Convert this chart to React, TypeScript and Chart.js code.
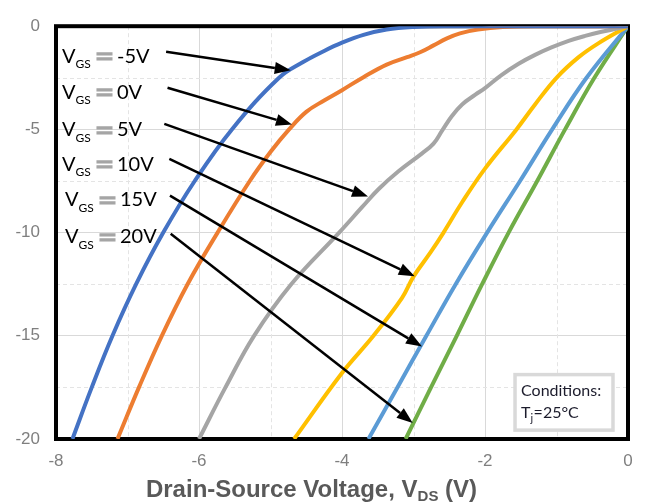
import React, { useEffect, useRef } from 'react';
import { Chart, registerables } from 'chart.js';
Chart.register(...registerables);

// ---- axes ----
const X_MIN = -8;
const X_MAX = 0;
const X_STEP = 2;
const Y_MIN = -20;
const Y_MAX = 0;
const Y_STEP = 5;
const MINOR_X = [-7, -5, -3, -1];
const MINOR_Y = [-2.5, -7.5, -12.5, -17.5];
const X_TITLE_MAIN = 'Drain-Source Voltage, V';
const X_TITLE_SUB = 'DS';
const X_TITLE_END = ' (V)';

// ---- series (VDS in V, ID in A) ----
const SERIES_NAMES = ['VGS=-5V', 'VGS=0V', 'VGS=5V', 'VGS=10V', 'VGS=15V', 'VGS=20V'];

const VDS_M5 = [-7.77, -7.5, -7.21, -6.88, -6.5, -6.06, -5.54, -4.88, -4.55, -4.25, -4.0, -3.7, -3.375, -3.0, -2.5, -1.5, 0];
const ID_M5 = [-20, -17.5, -15, -12.5, -10, -7.5, -5, -2.5, -1.75, -1.2, -0.8, -0.42, -0.16, -0.04, 0, 0, 0];

const VDS_0 = [-7.14, -6.84, -6.52, -6.16, -5.74, -5.29, -4.99, -4.74, -4.5, -4.25, -4.0, -3.7, -3.375, -3.09, -2.9, -2.72, -2.54, -2.35, -2.1, -1.75, -1.2, 0];
const ID_0 = [-20, -17.5, -15, -12.5, -10, -7.5, -6.05, -5, -4.15, -3.6, -3.1, -2.47, -1.86, -1.5, -1.25, -0.93, -0.6, -0.35, -0.16, -0.04, 0, 0];

const VDS_5 = [-6.0, -5.63, -5.23, -4.71, -4.04, -3.72, -3.49, -3.21, -2.88, -2.72, -2.6, -2.46, -2.32, -2.135, -2.0, -1.77, -1.53, -1.3, -1.07, -0.83, -0.6, -0.37, 0];
const ID_5 = [-20, -17.5, -15, -12.5, -10, -8.77, -7.9, -7.03, -6.16, -5.69, -5.06, -4.34, -3.79, -3.32, -3.0, -2.37, -1.82, -1.39, -1.03, -0.71, -0.47, -0.27, 0];

const VDS_10 = [-4.67, -4.0, -3.56, -3.16, -3.0, -2.76, -2.58, -2.32, -2.0, -1.56, -1.3, -1.0, -0.69, -0.41, 0];
const ID_10 = [-20, -16.8, -15, -13.16, -12.13, -10.95, -10, -8.53, -6.9, -5, -3.79, -2.5, -1.5, -0.82, 0];

const VDS_15 = [-3.63, -3.225, -2.82, -2.41, -1.97, -1.51, -1.06, -0.58, 0];
const ID_15 = [-20, -17.5, -15, -12.5, -10, -7.5, -5, -2.5, 0];

const VDS_20 = [-3.11, -2.755, -2.395, -2.04, -1.67, -1.27, -0.88, -0.47, 0];
const ID_20 = [-20, -17.5, -15, -12.5, -10, -7.5, -5, -2.5, 0];

const SERIES_X = [VDS_M5, VDS_0, VDS_5, VDS_10, VDS_15, VDS_20];
const SERIES_Y = [ID_M5, ID_0, ID_5, ID_10, ID_15, ID_20];
const COLORS = ['#4472C4', '#ED7D31', '#A5A5A5', '#FFC000', '#5B9BD5', '#70AD47'];

// ---- annotations (data coordinates) ----
const LABEL_VALUES = ['-5V', '0V', '5V', '10V', '15V', '20V'];
const LABEL_X = [-7.916, -7.916, -7.916, -7.916, -7.874, -7.874];
const LABEL_Y = [-1.762, -3.524, -5.333, -7.0, -8.714, -10.52];
const ARROW_X0 = [-6.46, -6.44, -6.485, -6.415, -6.406, -6.396];
const ARROW_Y0 = [-1.24, -2.98, -4.73, -6.43, -8.21, -10.06];
const ARROW_X1 = [-4.717, -4.70, -3.636, -2.983, -2.881, -3.011];
const ARROW_Y1 = [-2.14, -4.76, -8.25, -12.11, -15.52, -19.22];

const COND_BOX_X = [-1.58, -0.21];
const COND_BOX_Y = [-16.88, -19.57];
const COND_LINE1 = 'Conditions:';
const COND_T = 'T';
const COND_SUB = 'j';
const COND_REST = '=25°C';

const TICK_FONT = "'Liberation Sans', Arial, sans-serif";
const LABEL_FONT = "Lato, 'Open Sans', sans-serif";

const overlayPlugin = {
  id: 'overlay',
  beforeDatasetsDraw(chart: any) {
    const { ctx, chartArea: a, scales } = chart;
    const xs = scales.x;
    const ys = scales.y;
    ctx.save();
    ctx.strokeStyle = '#e4e4e4';
    ctx.lineWidth = 1;
    ctx.setLineDash([4, 3]);
    for (const v of MINOR_X) {
      const p = Math.round(xs.getPixelForValue(v)) + 0.5;
      ctx.beginPath();
      ctx.moveTo(p, a.top);
      ctx.lineTo(p, a.bottom);
      ctx.stroke();
    }
    for (const v of MINOR_Y) {
      const p = Math.round(ys.getPixelForValue(v)) + 0.5;
      ctx.beginPath();
      ctx.moveTo(a.left, p);
      ctx.lineTo(a.right, p);
      ctx.stroke();
    }
    ctx.setLineDash([]);
    ctx.strokeStyle = '#000';
    ctx.lineWidth = 4;
    ctx.strokeRect(a.left, a.top, a.right - a.left, a.bottom - a.top);
    ctx.restore();
  },
  afterDatasetsDraw(chart: any) {
    const { ctx, scales } = chart;
    const xs = scales.x;
    const ys = scales.y;
    ctx.save();
    // arrows
    for (let i = 0; i < ARROW_X0.length; i++) {
      const x0 = xs.getPixelForValue(ARROW_X0[i]);
      const y0 = ys.getPixelForValue(ARROW_Y0[i]);
      const x1 = xs.getPixelForValue(ARROW_X1[i]);
      const y1 = ys.getPixelForValue(ARROW_Y1[i]);
      const ang = Math.atan2(y1 - y0, x1 - x0);
      const hl = 16;
      const hw = 6;
      const bx = x1 - hl * Math.cos(ang);
      const by = y1 - hl * Math.sin(ang);
      ctx.strokeStyle = '#000';
      ctx.lineWidth = 2.5;
      ctx.beginPath();
      ctx.moveTo(x0, y0);
      ctx.lineTo(bx, by);
      ctx.stroke();
      ctx.fillStyle = '#000';
      ctx.beginPath();
      ctx.moveTo(x1, y1);
      ctx.lineTo(bx + hw * Math.sin(ang), by - hw * Math.cos(ang));
      ctx.lineTo(bx - hw * Math.sin(ang), by + hw * Math.cos(ang));
      ctx.closePath();
      ctx.fill();
    }
    // labels
    ctx.textBaseline = 'alphabetic';
    for (let i = 0; i < LABEL_VALUES.length; i++) {
      const px = xs.getPixelForValue(LABEL_X[i]);
      const py = ys.getPixelForValue(LABEL_Y[i]);
      ctx.textAlign = 'left';
      ctx.fillStyle = '#000';
      ctx.font = `20px ${LABEL_FONT}`;
      ctx.fillText('V', px, py);
      ctx.font = `12px ${LABEL_FONT}`;
      ctx.fillText('GS', px + 13.5, py + 5.5);
      ctx.fillStyle = '#a6a6a6';
      ctx.strokeStyle = '#a6a6a6';
      ctx.lineWidth = 1.1;
      ctx.font = "bold 21px 'Noto Sans CJK SC'";
      ctx.textAlign = 'center';
      ctx.fillText('＝', px + 42.5, py + 1.5);
      ctx.strokeText('＝', px + 42.5, py + 1.5);
      ctx.textAlign = 'left';
      ctx.fillStyle = '#000';
      ctx.font = `20px ${LABEL_FONT}`;
      ctx.fillText(LABEL_VALUES[i], px + 55, py);
    }
    // conditions box
    const bx0 = xs.getPixelForValue(COND_BOX_X[0]);
    const bx1 = xs.getPixelForValue(COND_BOX_X[1]);
    const by0 = ys.getPixelForValue(COND_BOX_Y[0]);
    const by1 = ys.getPixelForValue(COND_BOX_Y[1]);
    ctx.fillStyle = '#fff';
    ctx.fillRect(bx0, by0, bx1 - bx0, by1 - by0);
    ctx.strokeStyle = '#d9d9d9';
    ctx.lineWidth = 3.5;
    ctx.strokeRect(bx0, by0, bx1 - bx0, by1 - by0);
    ctx.fillStyle = '#1c1c2c';
    ctx.font = `16px ${LABEL_FONT}`;
    ctx.textAlign = 'left';
    ctx.fillText(COND_LINE1, bx0 + 6, by0 + 21);
    let tx = bx0 + 6;
    const tY = by0 + 43.5;
    ctx.fillText(COND_T, tx, tY);
    tx += ctx.measureText(COND_T).width;
    ctx.font = `11px ${LABEL_FONT}`;
    ctx.fillText(COND_SUB, tx, tY + 4);
    tx += ctx.measureText(COND_SUB).width + 0.5;
    ctx.font = `16px ${LABEL_FONT}`;
    ctx.fillText(COND_REST, tx, tY);
    ctx.restore();
  },
  afterDraw(chart: any) {
    const { ctx } = chart;
    ctx.save();
    ctx.fillStyle = '#595959';
    ctx.textBaseline = 'alphabetic';
    ctx.textAlign = 'left';
    const big = `bold 24px ${TICK_FONT}`;
    const small = `bold 15px ${TICK_FONT}`;
    ctx.font = big;
    const w1 = ctx.measureText(X_TITLE_MAIN).width;
    const w3 = ctx.measureText(X_TITLE_END).width;
    ctx.font = small;
    const w2 = ctx.measureText(X_TITLE_SUB).width;
    const total = w1 + w2 + w3;
    let x = 311.5 - total / 2;
    const y = 497;
    ctx.font = big;
    ctx.fillText(X_TITLE_MAIN, x, y);
    x += w1;
    ctx.font = small;
    ctx.fillText(X_TITLE_SUB, x, y + 4);
    x += w2;
    ctx.font = big;
    ctx.fillText(X_TITLE_END, x, y);
    ctx.restore();
  },
};

export default function App() {
  const ref = useRef<HTMLCanvasElement | null>(null);
  useEffect(() => {
    if (!ref.current) return;
    const datasets = SERIES_NAMES.map((name, i) => ({
      label: name,
      data: SERIES_X[i].map((x, j) => ({ x, y: SERIES_Y[i][j] })),
      borderColor: COLORS[i],
      backgroundColor: COLORS[i],
      borderWidth: 4,
      pointRadius: 0,
      fill: false,
      tension: 0.4,
    }));
    const chart = new Chart(ref.current, {
      type: 'line',
      data: { datasets },
      options: {
        animation: false,
        responsive: false,
        maintainAspectRatio: false,
        layout: { padding: { left: 0, top: 18, right: 23, bottom: 0 } },
        plugins: { legend: { display: false }, tooltip: { enabled: false } },
        scales: {
          x: {
            type: 'linear',
            min: X_MIN,
            max: X_MAX,
            ticks: {
              stepSize: X_STEP,
              color: '#7f7f7f',
              font: { family: TICK_FONT, size: 17 },
              padding: 12,
              maxRotation: 0,
            },
            grid: { color: '#d9d9d9', lineWidth: 1, drawTicks: false },
            border: { display: false },
            afterFit: (s: any) => { s.height = 63; },
          },
          y: {
            type: 'linear',
            min: Y_MIN,
            max: Y_MAX,
            ticks: {
              stepSize: Y_STEP,
              color: '#7f7f7f',
              font: { family: TICK_FONT, size: 17 },
              padding: 16,
            },
            grid: { color: '#d9d9d9', lineWidth: 1, drawTicks: false },
            border: { display: false },
            afterFit: (s: any) => { s.width = 56; },
          },
        },
      },
      plugins: [overlayPlugin],
    });
    return () => chart.destroy();
  }, []);
  return (
    <div style={{ position: 'fixed', left: 0, top: 0, width: 651, height: 502, background: '#fff' }}>
      <canvas ref={ref} width={651} height={502} style={{ width: 651, height: 502, display: 'block' }} />
    </div>
  );
}
